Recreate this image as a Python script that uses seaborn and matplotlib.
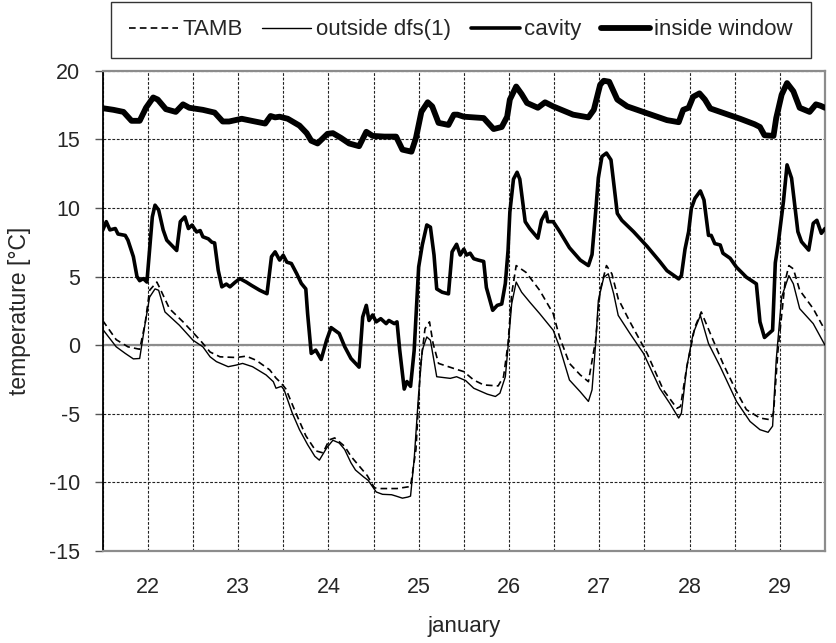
import numpy as np
import pandas as pd
import matplotlib
matplotlib.use("Agg")
import matplotlib.pyplot as plt
import seaborn as sns

# ---------------- data ----------------
inside_day = [21.5, 21.62, 21.73, 21.82, 21.91, 21.98, 22.06, 22.11, 22.2, 22.31, 22.39, 22.46,
              22.61, 22.74, 22.83, 22.9, 23.04, 23.15, 23.3, 23.36, 23.41, 23.46, 23.55, 23.68,
              23.76, 23.81, 23.88, 23.99, 24.05, 24.14, 24.23, 24.34, 24.42, 24.49, 24.62, 24.75,
              24.82, 24.92, 24.97, 25.03, 25.1, 25.15, 25.22, 25.33, 25.39, 25.43, 25.5, 25.72,
              25.83, 25.92, 25.98, 26.01, 26.08, 26.14, 26.2, 26.32, 26.4, 26.49, 26.71, 26.88,
              26.94, 27.01, 27.05, 27.11, 27.2, 27.31, 27.53, 27.75, 27.88, 27.93, 27.99, 28.04,
              28.11, 28.17, 28.23, 28.34, 28.56, 28.72, 28.78, 28.83, 28.93, 28.96, 29.02, 29.08,
              29.15, 29.22, 29.33, 29.4, 29.45, 29.5]
inside_temp = [17.27, 17.15, 17.0, 16.35, 16.35, 17.3, 18.05, 17.9, 17.2, 17.0, 17.55, 17.3,
               17.15, 16.95, 16.3, 16.3, 16.5, 16.35, 16.15, 16.7, 16.6, 16.65, 16.5, 16.0,
               15.45, 14.9, 14.7, 15.4, 15.45, 15.1, 14.7, 14.5, 15.55, 15.25, 15.2, 15.2,
               14.25, 14.1, 15.1, 17.0, 17.7, 17.4, 16.2, 16.05, 16.8, 16.8, 16.65, 16.55,
               15.75, 15.9, 16.65, 17.9, 18.85, 18.3, 17.65, 17.3, 17.7, 17.4, 16.8, 16.6,
               17.15, 18.98, 19.27, 19.2, 17.9, 17.4, 16.9, 16.4, 16.25, 17.15, 17.3, 18.1,
               18.35, 17.9, 17.25, 17.0, 16.5, 16.1, 15.9, 15.3, 15.25, 16.55, 18.25, 19.1,
               18.5, 17.3, 17.0, 17.55, 17.45, 17.3]

cavity_day = [21.5, 21.54, 21.58, 21.64, 21.67, 21.75, 21.78, 21.84, 21.88, 21.91, 21.95, 21.99,
              22.01, 22.05, 22.08, 22.12, 22.17, 22.21, 22.32, 22.36, 22.41, 22.45, 22.49, 22.54,
              22.58, 22.61, 22.67, 22.71, 22.74, 22.78, 22.82, 22.87, 22.91, 22.97, 23.02, 23.09,
              23.15, 23.24, 23.32, 23.37, 23.41, 23.46, 23.5, 23.54, 23.59, 23.65, 23.7, 23.75,
              23.77, 23.81, 23.86, 23.92, 23.98, 24.03, 24.12, 24.18, 24.25, 24.34, 24.38, 24.42,
              24.45, 24.49, 24.53, 24.58, 24.64, 24.67, 24.73, 24.76, 24.79, 24.84, 24.87, 24.91,
              24.95, 25.0, 25.04, 25.09, 25.13, 25.17, 25.2, 25.26, 25.33, 25.37, 25.42, 25.46,
              25.5, 25.53, 25.57, 25.61, 25.66, 25.72, 25.75, 25.82, 25.87, 25.92, 25.96, 25.99,
              26.01, 26.05, 26.09, 26.12, 26.18, 26.23, 26.32, 26.36, 26.41, 26.43, 26.49, 26.56,
              26.67, 26.79, 26.88, 26.92, 26.96, 26.99, 27.03, 27.08, 27.13, 27.2, 27.25, 27.38,
              27.53, 27.67, 27.75, 27.88, 27.91, 27.95, 27.99, 28.02, 28.06, 28.12, 28.16, 28.21,
              28.24, 28.28, 28.34, 28.37, 28.45, 28.52, 28.63, 28.74, 28.78, 28.83, 28.9, 28.92,
              28.95, 28.98, 29.04, 29.08, 29.13, 29.2, 29.24, 29.32, 29.37, 29.41, 29.46, 29.5]
cavity_temp = [8.37, 9.0, 8.4, 8.5, 8.1, 8.0, 7.65, 6.45, 5.0, 4.7, 4.85, 4.6,
               6.2, 9.35, 10.2, 9.85, 8.4, 7.65, 6.9, 9.0, 9.35, 8.5, 8.75, 8.25,
               8.35, 7.9, 7.75, 7.5, 7.45, 5.45, 4.25, 4.45, 4.25, 4.6, 4.85, 4.6,
               4.35, 4.0, 3.75, 6.45, 6.8, 6.2, 6.55, 6.05, 5.95, 5.2, 4.5, 4.1,
               2.3, -0.6, -0.36, -1.04, 0.36, 1.28, 0.85, -0.1, -0.97, -1.6, 2.05, 2.9,
               1.8, 2.2, 1.7, 1.93, 1.57, 1.8, 1.57, 1.7, -0.36, -3.2, -2.65, -3.0,
               -0.4, 5.7, 7.3, 8.76, 8.6, 6.57, 4.1, 3.86, 3.74, 6.8, 7.35, 6.57,
               7.0, 6.57, 6.7, 6.3, 6.2, 6.1, 4.2, 2.54, 2.9, 3.0, 4.5, 6.9,
               9.7, 12.1, 12.6, 12.1, 9.0, 8.5, 7.8, 9.1, 9.7, 9.0, 9.0, 8.3,
               7.1, 6.2, 5.8, 6.6, 9.7, 12.2, 13.75, 14.0, 13.5, 9.6, 9.1, 8.27,
               7.2, 6.1, 5.43, 4.83, 5.07, 7.0, 8.27, 9.97, 10.7, 11.24, 10.58, 8.0,
               8.0, 7.4, 7.3, 6.7, 6.33, 5.68, 4.95, 4.47, 1.7, 0.56, 0.97, 1.09,
               6.0, 7.3, 10.46, 13.14, 12.17, 8.27, 7.54, 6.93, 8.88, 9.1, 8.15, 8.5]

outside_day = [21.5, 21.65, 21.75, 21.84, 21.91, 21.97, 22.02, 22.08, 22.12, 22.19, 22.35, 22.5,
               22.61, 22.69, 22.76, 22.89, 22.98, 23.05, 23.16, 23.31, 23.39, 23.42, 23.48, 23.51,
               23.6, 23.68, 23.77, 23.85, 23.9, 23.98, 24.05, 24.12, 24.18, 24.25, 24.3, 24.39,
               24.44, 24.53, 24.6, 24.7, 24.75, 24.82, 24.88, 24.91, 24.95, 25.0, 25.04, 25.09,
               25.13, 25.2, 25.35, 25.42, 25.52, 25.61, 25.76, 25.85, 25.9, 25.96, 25.99, 26.03,
               26.08, 26.14, 26.23, 26.34, 26.49, 26.56, 26.67, 26.79, 26.88, 26.92, 26.96, 26.99,
               27.05, 27.1, 27.16, 27.21, 27.34, 27.49, 27.67, 27.78, 27.88, 27.91, 27.97, 28.04,
               28.12, 28.21, 28.34, 28.52, 28.67, 28.78, 28.87, 28.92, 28.96, 29.02, 29.1, 29.15,
               29.22, 29.37, 29.5]
outside_temp = [1.16, -0.12, -0.6, -1.0, -0.97, 1.57, 3.5, 4.1, 4.0, 2.42, 1.45, 0.36,
                -0.12, -0.85, -1.2, -1.57, -1.45, -1.33, -1.57, -2.17, -2.66, -3.14, -3.0, -3.26,
                -4.95, -6.16, -7.25, -8.1, -8.38, -7.5, -6.93, -7.13, -7.6, -8.57, -9.1, -9.6,
                -9.85, -10.7, -10.87, -10.9, -11.0, -11.15, -11.07, -11.0, -8.33, -3.5, -0.36, 0.6,
                0.36, -2.3, -2.42, -2.3, -2.58, -3.14, -3.57, -3.74, -3.5, -2.3, -0.12, 3.0,
                4.6, 3.86, 3.14, 2.3, 1.09, -0.12, -2.54, -3.4, -4.1, -3.26, 0.12, 3.26,
                4.95, 5.2, 3.74, 2.17, 0.85, -0.6, -3.14, -4.23, -5.31, -4.95, -1.57, 0.85,
                2.17, 0.12, -1.57, -4.1, -5.56, -6.16, -6.35, -5.9, -1.09, 3.5, 5.07, 4.47,
                2.66, 1.57, 0.0]

tamb_day = [21.5, 21.65, 21.78, 21.91, 21.97, 22.02, 22.1, 22.13, 22.24, 22.39, 22.58, 22.69,
            22.8, 22.98, 23.09, 23.2, 23.35, 23.42, 23.48, 23.53, 23.64, 23.75, 23.86, 23.94,
            24.01, 24.07, 24.18, 24.25, 24.43, 24.51, 24.58, 24.76, 24.91, 24.97, 25.02, 25.07,
            25.12, 25.16, 25.22, 25.39, 25.5, 25.61, 25.72, 25.88, 25.94, 25.99, 26.03, 26.08,
            26.19, 26.34, 26.49, 26.56, 26.67, 26.79, 26.88, 26.96, 27.01, 27.08, 27.14, 27.21,
            27.34, 27.53, 27.71, 27.86, 27.9, 27.97, 28.06, 28.13, 28.23, 28.37, 28.52, 28.63,
            28.78, 28.89, 28.93, 28.98, 29.06, 29.1, 29.15, 29.22, 29.37, 29.5]
tamb_temp = [1.8, 0.4, -0.12, -0.3, 1.57, 4.0, 4.6, 4.2, 2.66, 1.7, 0.36, -0.5,
             -0.85, -0.9, -0.8, -1.1, -1.8, -2.4, -2.78, -3.2, -4.95, -6.6, -7.7, -7.85,
             -6.9, -6.76, -7.37, -8.1, -9.5, -10.4, -10.45, -10.45, -10.3, -7.6, -1.57, 1.2,
             1.7, 0.12, -1.33, -1.7, -1.93, -2.54, -2.9, -2.97, -2.3, 0.12, 3.74, 5.8,
             5.3, 4.0, 2.3, 0.6, -1.33, -2.17, -2.66, 0.36, 4.0, 5.8, 5.2, 3.38,
             1.7, -0.6, -3.26, -4.6, -4.47, -1.57, 1.33, 2.42, 0.85, -1.33, -3.38, -4.7,
             -5.31, -5.43, -4.95, -0.36, 4.7, 5.8, 5.56, 4.0, 2.66, 1.09]

series_names = ["TAMB", "outside dfs(1)", "cavity", "inside window"]
y_ticks = [-15, -10, -5, 0, 5, 10, 15, 20]
x_ticks = [22, 23, 24, 25, 26, 27, 28, 29]
x_tick_labels = ["22", "23", "24", "25", "26", "27", "28", "29"]

# ---------------- plotting ----------------
sns.set_style("white")
plt.rcParams["font.family"] = ["Liberation Sans", "DejaVu Sans"]
plt.rcParams["axes.unicode_minus"] = False

fig = plt.figure(figsize=(8.36, 6.43), dpi=100)
ax = fig.add_axes([0.1228, 0.1431, 0.8640, 0.7469])

styles = [
    (tamb_day, tamb_temp, dict(lw=1.2, ls=(0, (4, 2.5)))),
    (outside_day, outside_temp, dict(lw=1.0, ls="-")),
    (cavity_day, cavity_temp, dict(lw=2.6, ls="-")),
    (inside_day, inside_temp, dict(lw=4.2, ls="-")),
]
for name, (xd, yd, st) in zip(series_names, styles):
    sns.lineplot(x=xd, y=yd, ax=ax, color="black", linewidth=st["lw"],
                 linestyle=st["ls"], label=name, sort=False, estimator=None,
                 solid_joinstyle="round", zorder=4)

ax.set_xlim(21.5, 29.5)
ax.set_ylim(-15, 20)
ax.set_xticks(x_ticks)
ax.set_xticklabels(x_tick_labels)
ax.set_xticks(np.arange(21.5, 29.6, 1.0), minor=True)
ax.set_yticks(y_ticks)

grid_kw = dict(color="#222222", linewidth=0.8, linestyle=(0, (2.5, 1.5)))
ax.grid(True, axis="x", which="both", **grid_kw)
ax.grid(True, axis="y", which="major", **grid_kw)
ax.set_axisbelow(True)
ax.axhline(0, color="#8c8c8c", linewidth=1.6, zorder=2)

ax.tick_params(axis="x", which="both", length=0, pad=19, labelsize=15.5)
ax.tick_params(axis="y", length=6, width=1, color="#555555", pad=10, labelsize=15.5, left=True)

for side in ["top", "right", "bottom"]:
    ax.spines[side].set_color("#8c8c8c")
    ax.spines[side].set_linewidth(1.6)
ax.spines["left"].set_color("black")
ax.spines["left"].set_linewidth(1.3)

ax.set_xlabel("january", fontsize=16, labelpad=13)
ax.set_ylabel("temperature [°C]", fontsize=16.5, labelpad=13)

handles, labels = ax.get_legend_handles_labels()
ax.get_legend().remove()
leg = fig.legend(handles, labels, loc="center", ncol=4, mode="expand",
                 bbox_to_anchor=(0.1196, 0.9114, 0.8636, 0.084),
                 fontsize=16, frameon=True, fancybox=False, borderpad=0.8,
                 handlelength=2.2, handletextpad=0.2, columnspacing=0.8)
leg.get_frame().set_edgecolor("black")
leg.get_frame().set_linewidth(1.0)

fig.savefig("out.png", dpi=100)
